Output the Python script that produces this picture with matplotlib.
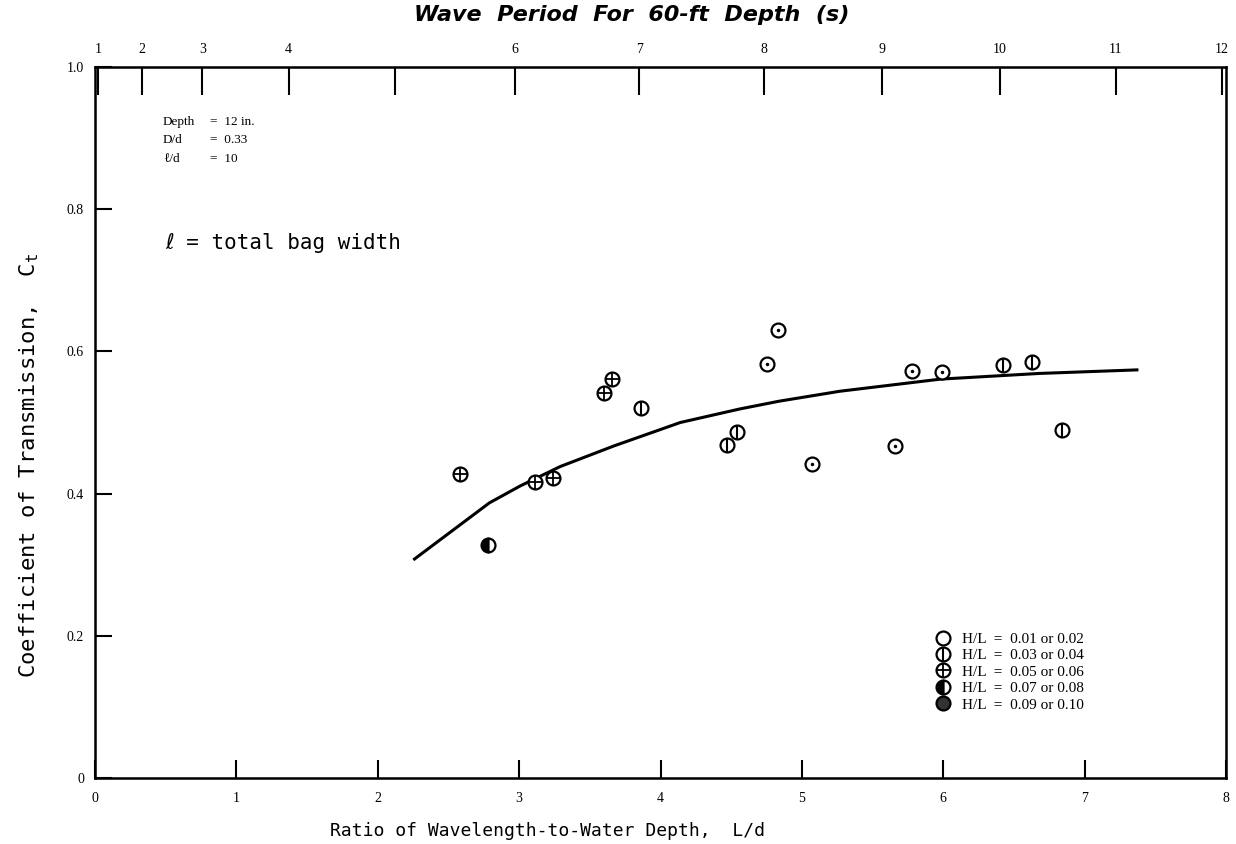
import numpy as np
import matplotlib
matplotlib.use("Agg")
import matplotlib.pyplot as plt
from matplotlib.lines import Line2D
from matplotlib.legend_handler import HandlerTuple

# Data (L/d, Ct)
hl_01_x = [4.75, 4.83, 5.07, 5.66, 5.78, 5.99]
hl_01_y = [0.582, 0.630, 0.442, 0.467, 0.572, 0.571]
hl_03_x = [3.86, 4.47, 4.54, 6.42, 6.63, 6.84]
hl_03_y = [0.521, 0.469, 0.486, 0.581, 0.585, 0.490]
hl_05_x = [2.58, 3.11, 3.24, 3.60, 3.66]
hl_05_y = [0.428, 0.416, 0.422, 0.542, 0.561]
hl_07_x = [2.78]
hl_07_y = [0.328]

# fitted curve
curve_x = [2.26, 2.79, 3.01, 3.29, 3.67, 4.14, 4.56, 4.84, 5.27, 5.98, 6.68, 7.37]
curve_y = [0.308, 0.387, 0.411, 0.438, 0.467, 0.500, 0.519, 0.530, 0.544, 0.561, 0.569, 0.574]

x_ticks = [0, 1, 2, 3, 4, 5, 6, 7, 8]
y_ticks = [0, 0.2, 0.4, 0.6, 0.8, 1.0]
y_ticklabels = ["0", "0.2", "0.4", "0.6", "0.8", "1.0"]

# top axis: wave period for 60-ft depth at L/d positions
period_pos = [0.02, 0.33, 0.76, 1.37, 2.12, 2.97, 3.85, 4.73, 5.57, 6.40, 7.22, 7.97]
period_labels = ["1", "2", "3", "4", "", "6", "7", "8", "9", "10", "11", "12"]

legend_labels = ["H/L  =  0.01 or 0.02", "H/L  =  0.03 or 0.04", "H/L  =  0.05 or 0.06",
                 "H/L  =  0.07 or 0.08", "H/L  =  0.09 or 0.10"]

SERIF = ["Liberation Serif", "DejaVu Serif"]
MONO = ["DejaVu Sans Mono", "DejaVu Sans"]
MS = 10
MEW = 1.6

fig = plt.figure(figsize=(12.36, 8.44), dpi=100)
ax = fig.add_axes([95 / 1236, 66 / 844, 1131 / 1236, 711 / 844])
ax.set_xlim(0, 8)
ax.set_ylim(0, 1.0)

for sp in ax.spines.values():
    sp.set_linewidth(1.8)

ax.set_xticks(x_ticks)
ax.set_xticklabels([str(v) for v in x_ticks], family=SERIF, fontsize=10)
ax.set_yticks(y_ticks)
ax.set_yticklabels(y_ticklabels, family=SERIF, fontsize=10)
ax.tick_params(axis="x", direction="in", length=13, width=1.5, pad=10)
ax.tick_params(axis="y", direction="in", length=12, width=1.5, pad=8)

ax2 = ax.twiny()
ax2.set_xlim(0, 8)
ax2.set_xticks(period_pos)
ax2.set_xticklabels(period_labels, family=SERIF, fontsize=10)
ax2.tick_params(axis="x", direction="in", length=20, width=1.5, pad=8)

# curve
ax.plot(curve_x, curve_y, color="black", lw=2.2, zorder=2)


def base(**kw):
    d = dict(ls="none", marker="o", ms=MS, mfc="white", mec="black", mew=MEW, zorder=3)
    d.update(kw)
    return d


# H/L 0.01-0.02: circle with centre dot
ax.plot(hl_01_x, hl_01_y, **base())
ax.plot(hl_01_x, hl_01_y, ls="none", marker=".", ms=3, color="black", zorder=4)
# H/L 0.03-0.04: circle with vertical bar
ax.plot(hl_03_x, hl_03_y, **base())
ax.plot(hl_03_x, hl_03_y, ls="none", marker="|", ms=MS, mew=1.5, color="black", zorder=4)
# H/L 0.05-0.06: circle with cross
ax.plot(hl_05_x, hl_05_y, **base())
ax.plot(hl_05_x, hl_05_y, ls="none", marker="+", ms=MS, mew=1.3, color="black", zorder=4)
# H/L 0.07-0.08: half filled
ax.plot(hl_07_x, hl_07_y, **base(fillstyle="left", mfc="black", markerfacecoloralt="white"))
ax.plot(hl_07_x, hl_07_y, ls="none", marker="|", ms=MS, mew=1.5, color="black", zorder=4)

# legend
h1 = Line2D([], [], **base())
h2 = (Line2D([], [], **base()), Line2D([], [], ls="none", marker="|", ms=MS, mew=1.5, color="black"))
h3 = (Line2D([], [], **base()), Line2D([], [], ls="none", marker="+", ms=MS, mew=1.3, color="black"))
h4 = (Line2D([], [], **base(fillstyle="left", mfc="black", markerfacecoloralt="white")),
      Line2D([], [], ls="none", marker="|", ms=MS, mew=1.5, color="black"))
h5 = Line2D([], [], **base(mfc="#333333"))
leg = ax.legend([h1, h2, h3, h4, h5], legend_labels,
                handler_map={tuple: HandlerTuple(ndivide=1)},
                loc="upper left", bbox_to_anchor=(0.744, 0.205), frameon=False,
                borderpad=0, borderaxespad=0, handlelength=0.9, handletextpad=0.8,
                labelspacing=0.18, prop={"family": SERIF, "size": 11})

# annotations
note_kw = dict(transform=ax.transAxes, family=SERIF, fontsize=9.5, va="center")
ax.text(0.060, 0.923, "Depth", **note_kw)
ax.text(0.102, 0.923, "=  12 in.", **note_kw)
ax.text(0.060, 0.897, "D/d", **note_kw)
ax.text(0.102, 0.897, "=  0.33", **note_kw)
ax.text(0.060, 0.871, "\u2113/d", **note_kw)
ax.text(0.102, 0.871, "=  10", **note_kw)

ax.text(0.062, 0.752, "\u2113 = total bag width", transform=ax.transAxes, family=MONO,
        fontsize=15, va="center")

# axis labels
ax.set_xlabel("Ratio of Wavelength-to-Water Depth,  L/d", family=MONO, fontsize=13)
ax.xaxis.set_label_coords(0.4, -0.062)
ax.set_ylabel(r"Coefficient of Transmission,  $\mathtt{C_t}$", family=MONO, fontsize=16)
ax.yaxis.set_label_coords(-0.048, 0.44)

fig.text(0.511, 0.982, "Wave  Period  For  60-ft  Depth  (s)", ha="center", va="center",
         fontsize=16, fontweight="bold", fontstyle="italic", family="DejaVu Sans")

fig.savefig("out.png", dpi=100)
